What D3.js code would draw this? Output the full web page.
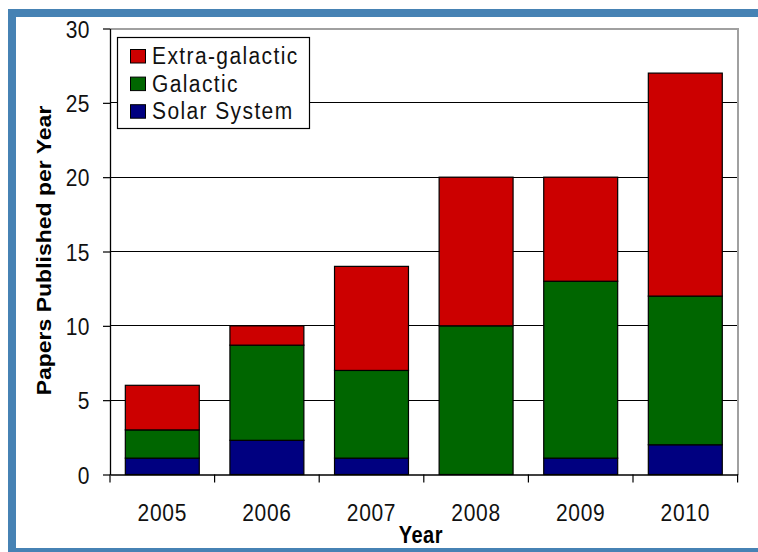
<!DOCTYPE html>
<html><head><meta charset="utf-8">
<script src="https://cdn.jsdelivr.net/npm/d3@7"></script>
<style>body{margin:0;background:#fff;overflow:hidden}</style></head>
<body>
<svg id="c" width="758" height="552"></svg>
<script>
const years = ["2005","2006","2007","2008","2009","2010"];
const solarSystem = [1.1, 2.3, 1.1, 0, 1.1, 2];
const galactic = [1.9, 6.4, 5.9, 10, 11.9, 10];
const extraGalactic = [3, 1.3, 7, 10, 7, 15];
const seriesKeys = ["Solar System", "Galactic", "Extra-galactic"];
const seriesColors = ["#000080", "#006600", "#cc0000"];
const yTicks = [0, 5, 10, 15, 20, 25, 30];
const xTitle = "Year";
const yTitle = "Papers Published per Year";

const FONT = "'Liberation Sans', Arial, Helvetica, sans-serif";
const SY = 1.15;
const svg = d3.select("#c");

// outer blue frame
svg.append("rect").attr("x", 12).attr("y", 13).attr("width", 800).attr("height", 539)
  .attr("fill", "none").attr("stroke", "#4682b4").attr("stroke-width", 8);

const L = 110, R = 737.6, T = 28.5, B = 474.5;
const x = d3.scaleBand().domain(years).range([L, R]).paddingInner(0.293).paddingOuter(0.1465);
const y = d3.scaleLinear().domain([0, 30]).range([B, T]);

const rows = years.map((yr, i) => ({year: yr, "Solar System": solarSystem[i], "Galactic": galactic[i], "Extra-galactic": extraGalactic[i]}));
const stacked = d3.stack().keys(seriesKeys)(rows);

// gridlines
svg.append("g").selectAll("line").data(yTicks.filter(v => v > 0 && v < 30)).join("line")
  .attr("x1", L).attr("x2", R).attr("y1", d => y(d)).attr("y2", d => y(d))
  .attr("stroke", "#000").attr("stroke-width", 1).attr("shape-rendering", "crispEdges");

// plot border (grey top/right)
svg.append("path").attr("d", `M${L},${y(30)}H${R}V${B}`).attr("fill", "none")
  .attr("stroke", "#a0a0a0").attr("stroke-width", 2).attr("shape-rendering", "crispEdges");

// bars
svg.append("g").selectAll("g").data(stacked).join("g")
  .attr("fill", (d, i) => seriesColors[i])
  .selectAll("rect").data(d => d.filter(s => s[1] - s[0] > 0)).join("rect")
  .attr("x", d => x(d.data.year)).attr("width", x.bandwidth())
  .attr("y", d => y(d[1])).attr("height", d => y(d[0]) - y(d[1]))
  .attr("stroke", "#000").attr("stroke-width", 1.2);

// y axis
const yAxis = svg.append("g").attr("transform", `translate(${L},0)`)
  .call(d3.axisLeft(y).tickValues(yTicks).tickSize(7).tickPadding(13).tickSizeOuter(0));
yAxis.select(".domain").attr("stroke", "#000").attr("stroke-width", 1.3);
yAxis.selectAll(".tick line").attr("stroke", "#000").attr("stroke-width", 1.2);
yAxis.selectAll(".tick text").attr("font-family", FONT).attr("font-size", 21)
  .attr("fill", "#111").attr("letter-spacing", 0.5).attr("dy", "0.36em")
  .attr("transform", `scale(1,${SY})`);

// x axis: labels at band centers
const xAxis = svg.append("g").attr("transform", `translate(0,${B})`)
  .call(d3.axisBottom(x).tickSize(0).tickPadding(0).tickSizeOuter(0));
xAxis.select(".domain").attr("stroke", "#000").attr("stroke-width", 1.3);
xAxis.selectAll(".tick text").attr("font-family", FONT).attr("font-size", 21)
  .attr("fill", "#111").attr("letter-spacing", 0.7).attr("y", 40.5).attr("dy", 0)
  .attr("transform", `scale(1,${SY})`);
// category boundary ticks
const bounds = d3.range(years.length + 1).map(i => L + i * x.step());
svg.append("g").selectAll("line").data(bounds).join("line")
  .attr("x1", d => d).attr("x2", d => d).attr("y1", B).attr("y2", B + 8)
  .attr("stroke", "#000").attr("stroke-width", 1.2);

// axis titles
svg.append("text").attr("transform", `translate(${(L + R) / 2 - 3},543) scale(1,${SY})`)
  .attr("text-anchor", "middle").attr("font-family", FONT).attr("font-weight", "bold")
  .attr("font-size", 20).attr("letter-spacing", 0.5).attr("fill", "#000").text(xTitle);
svg.append("text").attr("transform", `translate(51,${(T + B) / 2 - 1}) rotate(-90) scale(${SY},1)`)
  .attr("text-anchor", "middle").attr("font-family", FONT).attr("font-weight", "bold")
  .attr("font-size", 20).attr("fill", "#000").text(yTitle);

// legend
const leg = svg.append("g");
leg.append("rect").attr("x", 117.5).attr("y", 37.5).attr("width", 192).attr("height", 91)
  .attr("fill", "#fff").attr("stroke", "#000").attr("stroke-width", 1.2);
const legendItems = seriesKeys.map((k, i) => ({name: k, color: seriesColors[i]})).reverse();
const li = leg.selectAll("g.item").data(legendItems).join("g").attr("class", "item")
  .attr("transform", (d, i) => `translate(0,${i * 27.6})`);
li.append("rect").attr("x", 130.5).attr("y", 49.5).attr("width", 15).attr("height", 13.5)
  .attr("fill", d => d.color).attr("stroke", "#000").attr("stroke-width", 1);
li.append("text").attr("transform", `translate(152,64) scale(1,${SY})`)
  .attr("font-family", FONT).attr("font-size", 21).attr("letter-spacing", 1.4)
  .attr("fill", "#111").text(d => d.name);
</script>
</body></html>
